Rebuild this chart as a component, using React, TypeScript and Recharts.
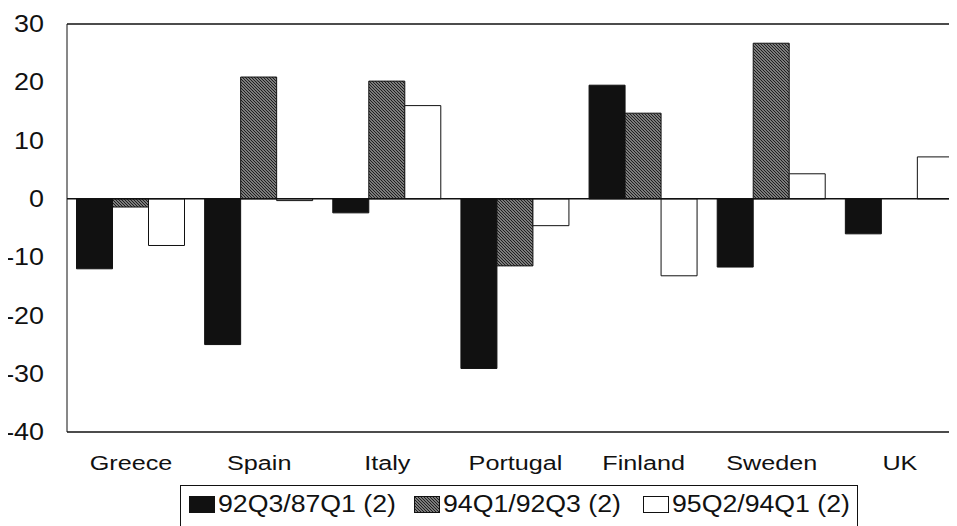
import React from "react";
import { BarChart, Bar, XAxis, YAxis, ReferenceLine } from "recharts";

const countries = ["Greece", "Spain", "Italy", "Portugal", "Finland", "Sweden", "UK"];
const change92Q3 = [-12, -25, -2.4, -29.1, 19.5, -11.7, -6];
const change94Q1 = [-1.4, 20.9, 20.2, -11.5, 14.7, 26.7, 0];
const change95Q2 = [-8, -0.3, 16, -4.6, -13.2, 4.3, 7.2];
const yTicks = [-40, -30, -20, -10, 0, 10, 20, 30];

const seriesNames = ["92Q3/87Q1 (2)", "94Q1/92Q3 (2)", "95Q2/94Q1 (2)"];
const seriesKeys = ["a", "b", "c"];

const data = countries.map((name, i) => ({
  name,
  a: change92Q3[i],
  b: change94Q1[i],
  c: change95Q2[i],
}));

const FONT = "'Liberation Sans', Arial, Helvetica, sans-serif";
const FILLS = ["#111", "url(#hatch)", "#fff"];
const LEGEND_X = [8, 233, 462];

function YTick(props: any) {
  const { x, y, payload } = props;
  return (
    <g transform={`translate(${x},${y})`}>
      <text
        x={0}
        y={0}
        dy="0.355em"
        textAnchor="end"
        transform="scale(1.17,1)"
        fontSize={23}
        fontFamily={FONT}
        fill="#111"
      >
        {payload.value}
      </text>
    </g>
  );
}

function XTick(props: any) {
  const { x, y, payload } = props;
  return (
    <g transform={`translate(${x},${y})`}>
      <text
        x={0}
        y={0}
        dy="0.71em"
        textAnchor="middle"
        transform="scale(1.2,1)"
        fontSize={21}
        fontFamily={FONT}
        fill="#111"
      >
        {payload.value}
      </text>
    </g>
  );
}

function Swatch({ index }: { index: number }) {
  const style: React.CSSProperties = {
    position: "absolute",
    left: 0,
    top: 0,
    width: 26,
    height: 17,
    boxSizing: "border-box",
    border: "1px solid #111",
  };
  if (index === 0) return <div style={{ ...style, background: "#111" }} />;
  if (index === 2) return <div style={{ ...style, background: "#fff" }} />;
  return (
    <svg width={26} height={17} style={{ position: "absolute", left: 0, top: 0 }}>
      <rect x={0.5} y={0.5} width={25} height={16} fill="url(#hatch)" stroke="#111" />
    </svg>
  );
}

export default function App() {
  return (
    <div
      style={{
        position: "relative",
        margin: "-8px 0 0 -8px",
        width: 957,
        height: 526,
        overflow: "hidden",
        background: "#fff",
      }}
    >
      <BarChart
        width={964}
        height={526}
        data={data}
        margin={{ top: 24, right: 0, left: 0, bottom: 54 }}
        barGap={0}
        barCategoryGap={9.5}
      >
        <defs>
          <pattern id="hatch" patternUnits="userSpaceOnUse" width={3} height={3}>
            <rect width={3} height={3} fill="#a8a8a8" />
            <path d="M-1,-1 L4,4 M-1,2 L1,4 M2,-1 L4,1" stroke="#1a1a1a" strokeWidth={1.2} />
          </pattern>
        </defs>
        <XAxis
          dataKey="name"
          height={40}
          axisLine={{ stroke: "#111", strokeWidth: 1.5 }}
          tickLine={false}
          tickSize={0}
          tickMargin={23}
          tick={<XTick />}
          interval={0}
        />
        <YAxis
          width={67}
          domain={[-40, 30]}
          ticks={yTicks}
          interval={0}
          axisLine={{ stroke: "#111", strokeWidth: 1 }}
          tickLine={false}
          tickSize={0}
          tickMargin={23}
          tick={<YTick />}
        />
        <ReferenceLine y={30} stroke="#111" strokeWidth={1.5} />
        {seriesKeys.map((key, i) => (
          <Bar
            key={key}
            dataKey={key}
            name={seriesNames[i]}
            fill={FILLS[i]}
            stroke="#111"
            strokeWidth={1}
            isAnimationActive={false}
          />
        ))}
        <ReferenceLine y={0} stroke="#111" strokeWidth={1.5} />
      </BarChart>

      <div
        style={{
          position: "absolute",
          left: 180,
          top: 485,
          width: 678,
          height: 60,
          boxSizing: "border-box",
          border: "1.5px solid #111",
          fontFamily: FONT,
          fontSize: 23,
          color: "#111",
        }}
      >
        {seriesNames.map((label, i) => (
          <div key={label} style={{ position: "absolute", left: LEGEND_X[i], top: 10 }}>
            <Swatch index={i} />
            <span
              style={{
                position: "absolute",
                left: 29,
                top: -5,
                whiteSpace: "nowrap",
                lineHeight: "26px",
                display: "inline-block",
                transform: "scaleX(1.16)",
                transformOrigin: "left center",
              }}
            >
              {label}
            </span>
          </div>
        ))}
      </div>
    </div>
  );
}
